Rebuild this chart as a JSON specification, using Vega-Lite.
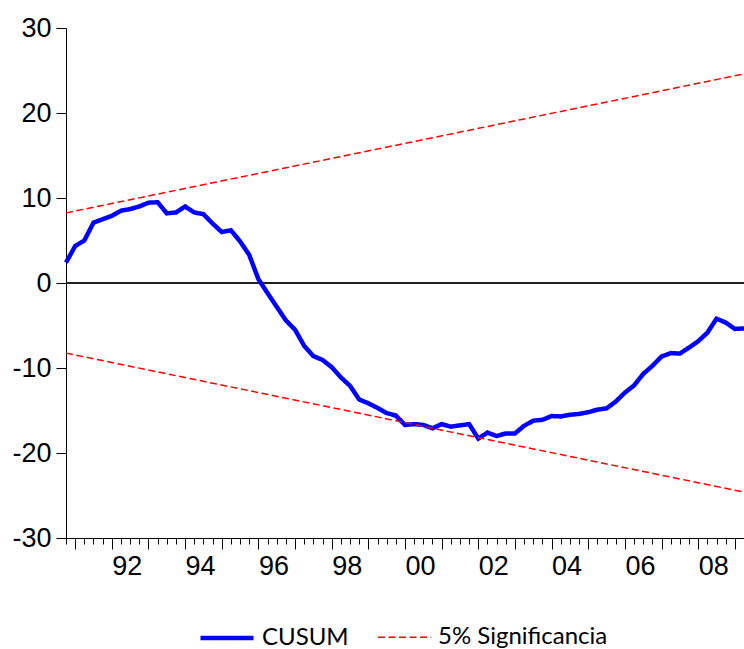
{
  "$schema": "https://vega.github.io/schema/vega-lite/v6.json",
  "width": 678,
  "height": 510,
  "autosize": "none",
  "padding": {"left": 66, "top": 28, "right": 0, "bottom": 111},
  "background": "white",
  "config": {
    "view": {"stroke": null},
    "axis": {"grid": false, "domainColor": "black", "domainWidth": 1, "tickColor": "black", "tickWidth": 1, "labelColor": "black", "labelFont": "Liberation Sans", "labelFontSize": 27}
  },
  "data": {"values": [
    {"t":1990.75,"value":2.4,"series":"CUSUM","line":"cusum"},
    {"t":1991.0,"value":4.35,"series":"CUSUM","line":"cusum"},
    {"t":1991.25,"value":5.0,"series":"CUSUM","line":"cusum"},
    {"t":1991.5,"value":7.1,"series":"CUSUM","line":"cusum"},
    {"t":1991.75,"value":7.5,"series":"CUSUM","line":"cusum"},
    {"t":1992.0,"value":7.9,"series":"CUSUM","line":"cusum"},
    {"t":1992.25,"value":8.5,"series":"CUSUM","line":"cusum"},
    {"t":1992.5,"value":8.7,"series":"CUSUM","line":"cusum"},
    {"t":1992.75,"value":9.0,"series":"CUSUM","line":"cusum"},
    {"t":1993.0,"value":9.45,"series":"CUSUM","line":"cusum"},
    {"t":1993.25,"value":9.5,"series":"CUSUM","line":"cusum"},
    {"t":1993.5,"value":8.2,"series":"CUSUM","line":"cusum"},
    {"t":1993.75,"value":8.3,"series":"CUSUM","line":"cusum"},
    {"t":1994.0,"value":9.0,"series":"CUSUM","line":"cusum"},
    {"t":1994.25,"value":8.3,"series":"CUSUM","line":"cusum"},
    {"t":1994.5,"value":8.1,"series":"CUSUM","line":"cusum"},
    {"t":1994.75,"value":7.0,"series":"CUSUM","line":"cusum"},
    {"t":1995.0,"value":6.0,"series":"CUSUM","line":"cusum"},
    {"t":1995.25,"value":6.2,"series":"CUSUM","line":"cusum"},
    {"t":1995.5,"value":4.9,"series":"CUSUM","line":"cusum"},
    {"t":1995.75,"value":3.3,"series":"CUSUM","line":"cusum"},
    {"t":1996.0,"value":0.45,"series":"CUSUM","line":"cusum"},
    {"t":1996.25,"value":-1.2,"series":"CUSUM","line":"cusum"},
    {"t":1996.5,"value":-2.8,"series":"CUSUM","line":"cusum"},
    {"t":1996.75,"value":-4.4,"series":"CUSUM","line":"cusum"},
    {"t":1997.0,"value":-5.5,"series":"CUSUM","line":"cusum"},
    {"t":1997.25,"value":-7.4,"series":"CUSUM","line":"cusum"},
    {"t":1997.5,"value":-8.6,"series":"CUSUM","line":"cusum"},
    {"t":1997.75,"value":-9.05,"series":"CUSUM","line":"cusum"},
    {"t":1998.0,"value":-9.9,"series":"CUSUM","line":"cusum"},
    {"t":1998.25,"value":-11.1,"series":"CUSUM","line":"cusum"},
    {"t":1998.5,"value":-12.1,"series":"CUSUM","line":"cusum"},
    {"t":1998.75,"value":-13.7,"series":"CUSUM","line":"cusum"},
    {"t":1999.0,"value":-14.15,"series":"CUSUM","line":"cusum"},
    {"t":1999.25,"value":-14.7,"series":"CUSUM","line":"cusum"},
    {"t":1999.5,"value":-15.3,"series":"CUSUM","line":"cusum"},
    {"t":1999.75,"value":-15.6,"series":"CUSUM","line":"cusum"},
    {"t":2000.0,"value":-16.7,"series":"CUSUM","line":"cusum"},
    {"t":2000.25,"value":-16.6,"series":"CUSUM","line":"cusum"},
    {"t":2000.5,"value":-16.7,"series":"CUSUM","line":"cusum"},
    {"t":2000.75,"value":-17.1,"series":"CUSUM","line":"cusum"},
    {"t":2001.0,"value":-16.6,"series":"CUSUM","line":"cusum"},
    {"t":2001.25,"value":-16.9,"series":"CUSUM","line":"cusum"},
    {"t":2001.5,"value":-16.75,"series":"CUSUM","line":"cusum"},
    {"t":2001.75,"value":-16.6,"series":"CUSUM","line":"cusum"},
    {"t":2002.0,"value":-18.3,"series":"CUSUM","line":"cusum"},
    {"t":2002.25,"value":-17.6,"series":"CUSUM","line":"cusum"},
    {"t":2002.5,"value":-18.0,"series":"CUSUM","line":"cusum"},
    {"t":2002.75,"value":-17.7,"series":"CUSUM","line":"cusum"},
    {"t":2003.0,"value":-17.7,"series":"CUSUM","line":"cusum"},
    {"t":2003.25,"value":-16.8,"series":"CUSUM","line":"cusum"},
    {"t":2003.5,"value":-16.2,"series":"CUSUM","line":"cusum"},
    {"t":2003.75,"value":-16.1,"series":"CUSUM","line":"cusum"},
    {"t":2004.0,"value":-15.65,"series":"CUSUM","line":"cusum"},
    {"t":2004.25,"value":-15.7,"series":"CUSUM","line":"cusum"},
    {"t":2004.5,"value":-15.5,"series":"CUSUM","line":"cusum"},
    {"t":2004.75,"value":-15.4,"series":"CUSUM","line":"cusum"},
    {"t":2005.0,"value":-15.2,"series":"CUSUM","line":"cusum"},
    {"t":2005.25,"value":-14.9,"series":"CUSUM","line":"cusum"},
    {"t":2005.5,"value":-14.75,"series":"CUSUM","line":"cusum"},
    {"t":2005.75,"value":-13.95,"series":"CUSUM","line":"cusum"},
    {"t":2006.0,"value":-12.9,"series":"CUSUM","line":"cusum"},
    {"t":2006.25,"value":-12.05,"series":"CUSUM","line":"cusum"},
    {"t":2006.5,"value":-10.7,"series":"CUSUM","line":"cusum"},
    {"t":2006.75,"value":-9.75,"series":"CUSUM","line":"cusum"},
    {"t":2007.0,"value":-8.65,"series":"CUSUM","line":"cusum"},
    {"t":2007.25,"value":-8.25,"series":"CUSUM","line":"cusum"},
    {"t":2007.5,"value":-8.3,"series":"CUSUM","line":"cusum"},
    {"t":2007.75,"value":-7.6,"series":"CUSUM","line":"cusum"},
    {"t":2008.0,"value":-6.85,"series":"CUSUM","line":"cusum"},
    {"t":2008.25,"value":-5.85,"series":"CUSUM","line":"cusum"},
    {"t":2008.5,"value":-4.2,"series":"CUSUM","line":"cusum"},
    {"t":2008.75,"value":-4.65,"series":"CUSUM","line":"cusum"},
    {"t":2009.0,"value":-5.4,"series":"CUSUM","line":"cusum"},
    {"t":2009.25,"value":-5.35,"series":"CUSUM","line":"cusum"},
    {"t":1990.75,"value":8.25,"series":"5% Significancia","line":"upper"},
    {"t":2009.25,"value":24.6,"series":"5% Significancia","line":"upper"},
    {"t":1990.75,"value":-8.25,"series":"5% Significancia","line":"lower"},
    {"t":2009.25,"value":-24.6,"series":"5% Significancia","line":"lower"}
  ]},
  "layer": [
    {
      "mark": {"type": "rule", "color": "#222222", "strokeWidth": 1.5},
      "encoding": {"y": {"datum": 0}}
    },
    {
      "mark": {"type": "line"},
      "encoding": {
        "x": {
          "field": "t", "type": "quantitative",
          "scale": {"domain": [1990.75, 2009.25], "nice": false, "zero": false},
          "axis": {
            "title": null,
            "values": [1990.75,1991,1991.25,1991.5,1991.75,1992,1992.25,1992.5,1992.75,1993,1993.25,1993.5,1993.75,1994,1994.25,1994.5,1994.75,1995,1995.25,1995.5,1995.75,1996,1996.25,1996.5,1996.75,1997,1997.25,1997.5,1997.75,1998,1998.25,1998.5,1998.75,1999,1999.25,1999.5,1999.75,2000,2000.25,2000.5,2000.75,2001,2001.25,2001.5,2001.75,2002,2002.25,2002.5,2002.75,2003,2003.25,2003.5,2003.75,2004,2004.25,2004.5,2004.75,2005,2005.25,2005.5,2005.75,2006,2006.25,2006.5,2006.75,2007,2007.25,2007.5,2007.75,2008,2008.25,2008.5,2008.75,2009,2009.25],
            "tickSize": {"condition": {"test": "datum.value % 1 === 0", "value": 11}, "value": 6},
            "labelExpr": "(datum.value % 2 === 0) ? slice(toString(datum.value), 2) : ''",
            "labelAlign": "left",
            "labelOverlap": false,
            "labelFlush": false,
            "labelBound": false,
            "labelPadding": 4
          }
        },
        "y": {
          "field": "value", "type": "quantitative",
          "scale": {"domain": [-30, 30], "nice": false, "zero": false},
          "axis": {"title": null, "values": [-30,-20,-10,0,10,20,30], "tickSize": 10, "labelPadding": 5, "labelExpr": "toString(datum.value)"}
        },
        "detail": {"field": "line"},
        "color": {
          "field": "series", "type": "nominal",
          "scale": {"domain": ["CUSUM", "5% Significancia"], "range": ["#0000FF", "#FF0000"]},
          "legend": {
            "orient": "none", "legendX": 132, "legendY": 581,
            "direction": "horizontal", "title": null,
            "symbolType": "stroke", "symbolSize": 2809,
            "labelFont": "Lato", "labelFontSize": 24, "labelColor": "black", "labelLimit": 400,
            "labelOffset": 6, "columnPadding": 26, "padding": 0
          }
        },
        "strokeDash": {
          "field": "series", "type": "nominal",
          "scale": {"domain": ["CUSUM", "5% Significancia"], "range": [[1, 0], [7, 3.5]]}
        },
        "strokeWidth": {
          "field": "series", "type": "nominal",
          "scale": {"type": "ordinal", "domain": ["CUSUM", "5% Significancia"], "range": [4.5, 1.5]}
        }
      }
    }
  ]
}
